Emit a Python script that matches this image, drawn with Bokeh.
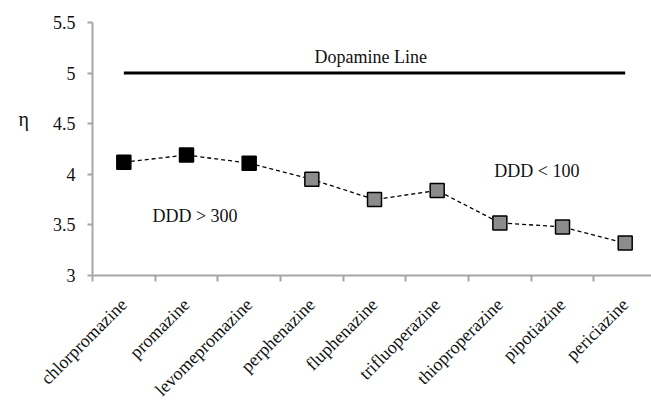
import math
from bokeh.plotting import figure
from bokeh.models import FixedTicker, Label, Range1d
from bokeh.embed import file_html
from bokeh.resources import INLINE

drugs = ["chlorpromazine", "promazine", "levomepromazine", "perphenazine",
         "fluphenazine", "trifluoperazine", "thioproperazine", "pipotiazine",
         "periciazine"]
eta = [4.12, 4.19, 4.11, 3.95, 3.75, 3.84, 3.52, 3.48, 3.32]
group = ["DDD > 300"] * 3 + ["DDD < 100"] * 6
dopamine_level = 5.0
y_ticks = [3, 3.5, 4, 4.5, 5, 5.5]
y_tick_labels = ["3", "3.5", "4", "4.5", "5", "5.5"]
y_title = "η"

FONT = "Liberation Serif"
AXIS_GRAY = "#a6a6a6"
STEP = 62.67
FRAME_W = 559

xs = list(range(len(drugs)))
colors = ["black" if g == "DDD > 300" else "#8c8c8c" for g in group]

p = figure(frame_width=FRAME_W, frame_height=253, output_backend="svg",
           toolbar_location=None, min_border_left=92, min_border_top=22,
           min_border_right=0, min_border_bottom=126,
           x_range=Range1d(-0.5, -0.5 + FRAME_W / STEP), y_range=Range1d(3, 5.5))
p.outline_line_color = None
p.xgrid.visible = False
p.ygrid.visible = False

p.line([xs[0], xs[-1]], [dopamine_level, dopamine_level], line_color="black", line_width=3)
p.line(xs, eta, line_color="black", line_width=1.3, line_dash="4 3")
p.scatter(xs, eta, marker="square", size=14, fill_color=colors,
          line_color="black", line_width=1.5)

xa = p.xaxis[0]
xa.ticker = FixedTicker(ticks=xs, minor_ticks=[x - 0.5 for x in xs] + [xs[-1] + 0.5])
xa.major_label_overrides = {x: d for x, d in zip(xs, drugs)}
xa.major_label_orientation = math.pi / 4
xa.major_tick_line_color = None
xa.major_tick_out = 0
xa.major_tick_in = 0
xa.minor_tick_out = 6
xa.minor_tick_in = 0
xa.minor_tick_line_color = AXIS_GRAY
xa.minor_tick_line_width = 2
xa.axis_line_color = AXIS_GRAY
xa.axis_line_width = 2
xa.major_label_standoff = 20
xa.major_label_text_font = FONT
xa.major_label_text_font_size = "18px"
xa.major_label_text_color = "#111111"

ya = p.yaxis[0]
ya.ticker = FixedTicker(ticks=y_ticks, minor_ticks=[])
ya.major_label_overrides = {t: l for t, l in zip(y_ticks, y_tick_labels)}
ya.axis_line_color = AXIS_GRAY
ya.axis_line_width = 2
ya.major_tick_line_color = AXIS_GRAY
ya.major_tick_line_width = 2
ya.major_tick_out = 5
ya.major_tick_in = 0
ya.major_label_standoff = 12
ya.major_label_text_font = FONT
ya.major_label_text_font_size = "18px"
ya.major_label_text_color = "#111111"
# trailing blank lines lift the horizontal axis title above the frame centre
ya.axis_label = y_title + "\n\n"
ya.axis_label_orientation = "horizontal"
ya.axis_label_standoff = 21
ya.axis_label_text_font = FONT
ya.axis_label_text_font_size = "20px"
ya.axis_label_text_line_height = 1.35
ya.axis_label_text_font_style = "normal"
ya.axis_label_text_color = "#111111"

def add_label(text, x, y, align="center", baseline="alphabetic"):
    p.add_layout(Label(x=x, y=y, text=text, text_font=FONT,
                       text_font_size="18px", text_color="#111111",
                       text_align=align, text_baseline=baseline))

add_label("Dopamine Line", 3.94, 5.16)
add_label("DDD < 100", 6.59, 4.03)
add_label("DDD > 300", 1.135, 3.586)

open("out.html", "w").write(file_html(p, INLINE))
